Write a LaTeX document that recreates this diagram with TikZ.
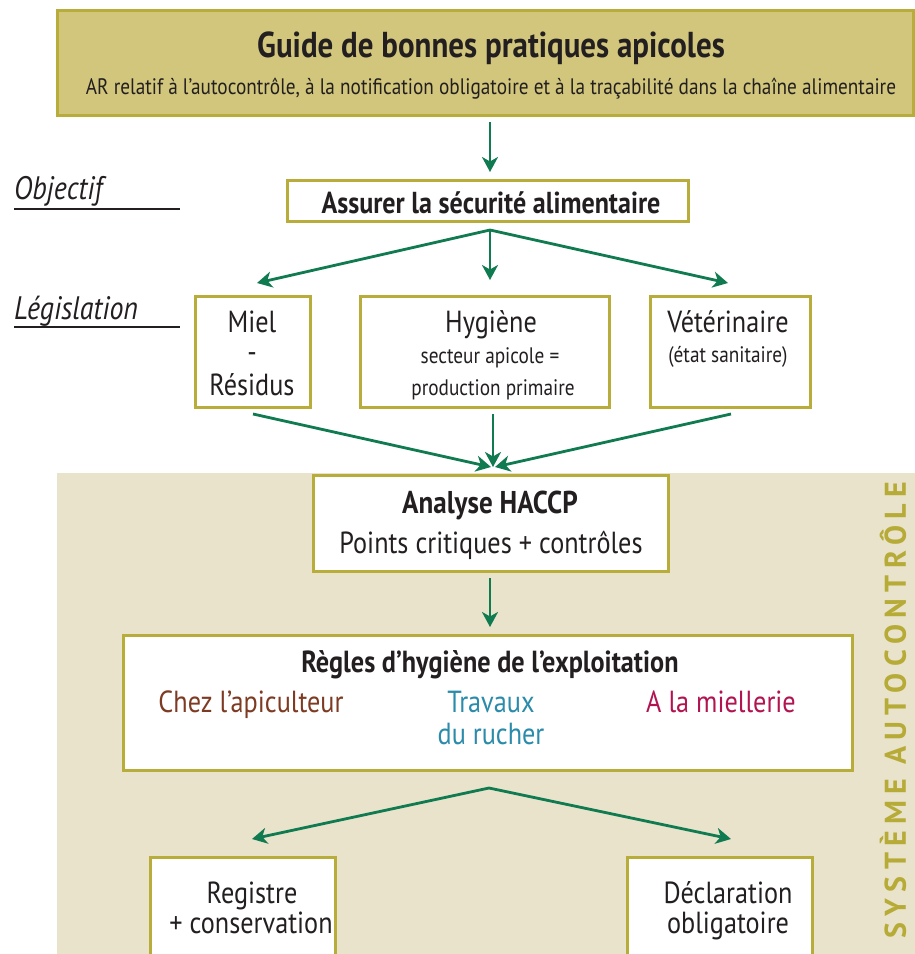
\documentclass[tikz,border=0pt]{standalone}
\usepackage{fontspec}
\setmainfont{PT Sans}[FakeStretch=0.86]
\newfontfamily\vfont{PT Sans}[LetterSpace=21]
\usetikzlibrary{arrows.meta}
\definecolor{boxline}{HTML}{B8AD3A}
\definecolor{hdrfill}{HTML}{D1C67C}
\definecolor{beige}{HTML}{EAE3CB}
\definecolor{arrowgreen}{HTML}{107A50}
\definecolor{txtdark}{HTML}{231F20}
\definecolor{brownc}{HTML}{7E3B23}
\definecolor{tealc}{HTML}{2A8BAA}
\definecolor{crimsonc}{HTML}{B21452}
\definecolor{vtext}{HTML}{B7AB38}
\tikzset{
  box/.style={draw=boxline, line width=3pt, fill=white, inner sep=0pt},
  txt/.style={inner sep=0pt, anchor=base, text=txtdark},
  big/.style={font=\fontsize{30.5}{32}\selectfont},
  small/.style={font=\fontsize{22.4}{24}\selectfont},
  arr/.style={draw=arrowgreen, line width=2.8pt, -{Stealth[length=15pt,width=16pt,inset=4.5pt]}},
  lab/.style={inner sep=0pt, anchor=base west, text=txtdark, font=\fontsize{32.5}{34}\selectfont\itshape},
  uline/.style={draw=txtdark, line width=1.3pt}
}
\begin{document}
\begin{tikzpicture}[x=1pt,y=-1pt]
\useasboundingbox (0,0) rectangle (915,954);
\clip (0,0) rectangle (915,954);
% background
\fill[beige] (57,473) rectangle (915,960);
% header
\node[draw=boxline, line width=3pt, fill=hdrfill, minimum width=856pt, minimum height=105pt, inner sep=0pt] (hdr) at (485,62.5) {};
\node[txt, font=\fontsize{36}{38}\selectfont\bfseries] (title) at (491,57) {Guide de bonnes pratiques apicoles};
\node[txt, font=\fontsize{22.4}{24}\selectfont] (sub) at (491,94) {AR relatif à l’autocontrôle, à la notification obligatoire et à la traçabilité dans la chaîne alimentaire};
% side labels
\node[lab] (obj) at (14,199) {Objectif};
\draw[uline] (14,209) -- (180,209);
\node[lab] (leg) at (14,319) {Législation};
\draw[uline] (14,327) -- (180,327);
% objective box
\node[box, minimum width=401pt, minimum height=41pt] (secu) at (488,200.5) {};
\node[txt, font=\fontsize{30.3}{32}\selectfont\bfseries] (secut) at (491,213) {Assurer la sécurité alimentaire};
% legislation boxes
\node[box, minimum width=115pt, minimum height=111pt] (miel) at (252.5,351.5) {};
\node[txt, big] (mielt) at (252,332) {Miel};
\node[txt, big] (mield) at (252,362) {-};
\node[txt, big] (mielr) at (252,395) {Résidus};
\node[box, minimum width=249pt, minimum height=111pt] (hyg) at (484.5,351.5) {};
\node[txt, big] (hygt) at (491,332) {Hygiène};
\node[txt, small] (hyga) at (490,363) {secteur apicole =};
\node[txt, small] (hygb) at (493,395) {production primaire};
\node[box, minimum width=160pt, minimum height=111pt] (vet) at (730,351.5) {};
\node[txt, big] (vett) at (728,332) {Vétérinaire};
\node[txt, small] (veta) at (728,362) {(état sanitaire)};
% HACCP
\node[box, minimum width=355pt, minimum height=96pt] (haccp) at (490.5,523) {};
\node[txt, font=\fontsize{31.5}{33}\selectfont\bfseries] (haccpt) at (490,513) {Analyse HACCP};
\node[txt, big] (haccpp) at (491,553) {Points critiques + contrôles};
% Regles
\node[box, minimum width=729pt, minimum height=135pt] (regles) at (487.5,702.5) {};
\node[txt, font=\fontsize{30.5}{32}\selectfont\bfseries] (reglest) at (490,672) {Règles d’hygiène de l’exploitation};
\node[txt, big, text=brownc] (chez) at (251,712) {Chez l’apiculteur};
\node[txt, big, text=tealc] (trav) at (491,712) {Travaux};
\node[txt, big, text=tealc] (ruch) at (491,744) {du rucher};
\node[txt, big, text=crimsonc] (miell) at (721,712) {A la miellerie};
% bottom boxes
\node[box, minimum width=185pt, minimum height=110pt] (reg) at (242.5,912) {};
\node[txt, big] (regt) at (252,903) {Registre};
\node[txt, big] (regc) at (251,933) {+ conservation};
\node[box, minimum width=185pt, minimum height=110pt] (decl) at (719.5,912) {};
\node[txt, big] (declt) at (728,903) {Déclaration};
\node[txt, big] (declo) at (728,933) {obligatoire};
% vertical text
\node[inner sep=0pt, rotate=90, text=vtext, font=\vfont\fontsize{30}{32}\selectfont\bfseries] (sys) at (893,710) {SYSTÈME AUTOCONTRÔLE};
% arrow coordinates
\coordinate (a0s) at (490,122);
\coordinate (a0e) at (490,172);
\coordinate (s1) at (490,230);
\coordinate (e1l) at (257,283);
\coordinate (e1m) at (490,280);
\coordinate (e1r) at (728,283);
\coordinate (s2l) at (253,414);
\coordinate (s2m) at (493,414);
\coordinate (s2r) at (731,414);
\coordinate (e2l) at (491,467);
\coordinate (e2m) at (493,467);
\coordinate (e2r) at (495,467);
\coordinate (s3) at (490,578);
\coordinate (e3) at (490,627);
\coordinate (s4) at (489,788);
\coordinate (e4l) at (252,839);
\coordinate (e4r) at (731,839);
% arrows
\draw[arr] (a0s) -- (a0e);
\draw[arr] (s1) -- (e1l);
\draw[arr] (s1) -- (e1m);
\draw[arr] (s1) -- (e1r);
\draw[arr] (s2l) -- (e2l);
\draw[arr] (s2m) -- (e2m);
\draw[arr] (s2r) -- (e2r);
\draw[arr] (s3) -- (e3);
\draw[arr] (s4) -- (e4l);
\draw[arr] (s4) -- (e4r);
\end{tikzpicture}
\end{document}
